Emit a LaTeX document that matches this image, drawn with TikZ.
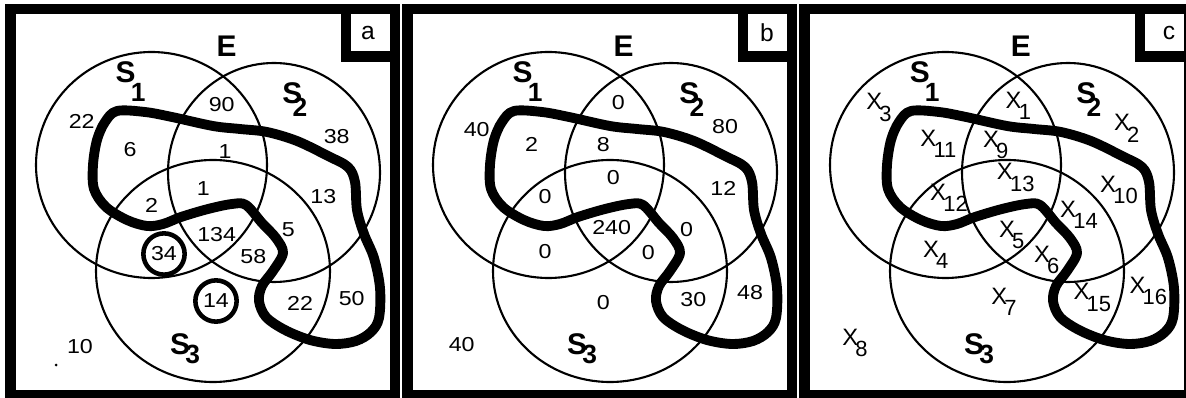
\documentclass[tikz,border=0pt]{standalone}
\usepackage{fontspec}
\setmainfont{Liberation Sans}
\newfontfamily\numfont[FakeStretch=1.15]{Liberation Sans}
\newcommand\xv[1]{X\kern-1.5pt\raisebox{-6.6pt}{\fontsize{12.5}{12.5}\selectfont#1}}

\begin{document}
\begin{tikzpicture}[
    x=0.02cm, y=-0.02cm,
    frame/.style={line width=6.2pt},
    setline/.style={line width=1.2pt},
    blobline/.style={line width=5.6pt, line join=round},
    num/.style={font=\numfont\fontsize{11.5}{12}\selectfont, inner sep=0pt},
    ring/.style={circle, draw, line width=2.6pt, minimum size=23.5pt},
    setname/.style={font=\bfseries\fontsize{17}{17}\selectfont, inner sep=0pt},
    setsub/.style={font=\bfseries\fontsize{15}{15}\selectfont, inner sep=0pt},
    tag/.style={font=\fontsize{14}{14}\selectfont, inner sep=0pt},
    xvar/.style={font=\fontsize{13.5}{13.5}\selectfont, inner sep=0pt}
]
\useasboundingbox (0,0) rectangle (1186,398);

% the three panels share frame, sets and the thick boundary
\foreach \dx/\tg/\tx in {0/a/368,397/b/370,794/c/375}{
\begin{scope}[shift={(\dx,0)}]
  \draw[frame] (10.5,9) rectangle (395,395);
  \draw[frame] (346,9) |- (395,56.5);
  \node[tag] (tag-\tg) at (\tx,33) {\tg};
  \draw[setline] (151.5,165) ellipse[x radius=115.5, y radius=113];
  \draw[setline] (274,172.5) ellipse[x radius=106, y radius=109.5];
  \draw[setline] (213,271) ellipse[x radius=117, y radius=111];
  \draw[blobline] plot[smooth cycle, tension=0.55] coordinates {
    (117,111) (145,112) (172,117) (213,126) (240,129) (267,132) (297,141)
    (328,156) (348,167) (355,182) (357,210) (364,234) (374,258) (380,288)
    (379,318) (371,332) (356,341) (335,344) (310,340) (285,330) (266,317)
    (259,301) (262,286) (273,271) (283,253) (276,238) (262,223) (246,205)
    (232,204) (208,209) (181,217) (163,224) (147,226) (127,220) (106,207)
    (94,189) (93,165) (97,140) (105,122)};
  \node[setname] (E-\tg) at (226.7,46.7) {E};
  \node[setname] (S1-\tg) at (125.7,72.3) {S};
  \node[setsub] (S1sub-\tg) at (138.3,92) {1};
  \node[setname] (S2-\tg) at (292.3,93.3) {S};
  \node[setsub] (S2sub-\tg) at (300,107) {2};
  \node[setname] (S3-\tg) at (180,344.3) {S};
  \node[setsub] (S3sub-\tg) at (192.7,354) {3};
\end{scope}}

% panel a: counts
\begin{scope}
  \foreach \px/\py/\t [count=\i] in {81.7/121.7/22, 221.7/105/90, 336.7/136.7/38,
      130/150/6, 225/151.7/1, 323.3/196.7/13, 151.7/205/2, 203.3/188.3/1,
      216.7/235/134, 288.3/230/5, 253.3/256.7/58, 300/303.3/22, 351.7/298.3/50,
      80/346.7/10}
    \node[num] (a\i) at (\px,\py) {\t};
  \node[num, ring] (a34) at (164,254) {34};
  \node[num, ring] (a14) at (216,301) {14};
  \fill (56,365) circle[radius=1.5];
\end{scope}

% panel b: counts
\begin{scope}[shift={(397,0)}]
  \foreach \px/\py/\t [count=\i] in {79.7/129.7/40, 221.3/103/0, 328/126.3/80,
      134.7/144.7/2, 206.3/144.7/8, 216.3/178/0, 326.3/188/12, 148/196.3/0,
      214.7/228/240, 289.7/229.7/0, 148/251.3/0, 251.3/253/0, 296.3/299.7/30,
      353/293/48, 206.3/303/0, 64.7/344.7/40}
    \node[num] (b\i) at (\px,\py) {\t};
\end{scope}

% panel c: region variables
\begin{scope}[shift={(794,0)}]
  \foreach \px/\py/\k in {224.3/105.7/1, 332.7/128.3/2, 85/107.5/3, 141.7/255/4,
      217.7/235/5, 252.7/260/6, 210/302/7, 61/343/8, 201.7/145/9, 325/190/10,
      144.3/144/11, 155/197.7/12, 221.7/177.7/13, 285/215/14, 298.3/297.7/15,
      354.3/291/16}
    \node[xvar] (x\k) at (\px,\py) {\xv{\k}};
\end{scope}
\end{tikzpicture}
\end{document}
